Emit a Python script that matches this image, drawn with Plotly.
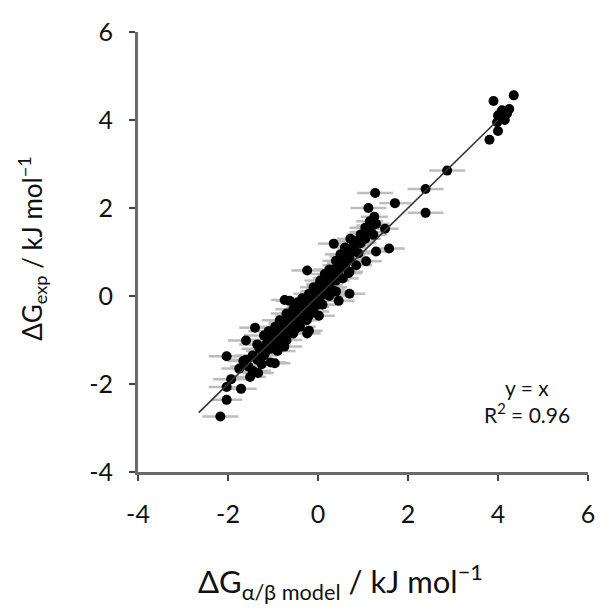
import plotly.graph_objects as go

# isolated points first, then the dense band along the diagonal
x_model = [
    4.35, 3.90, 4.09, 4.20, 4.00, 4.15, 3.98, 4.00, 3.81, 4.25,
    2.87, 2.39, 2.39, 1.27, 1.12, 1.71, 1.29, 1.49, 1.58, 1.23,
    1.29, 0.90, 1.07, 0.35, 0.72, -0.24, 0.48, 0.68, 0.20, 0.04,
    0.70, 0.46, -0.09, 0.02, -0.46, -0.63, -0.74, -0.20, -1.40, -1.60,
    -2.03, -1.66, -1.18, -1.05, -0.90, -0.68, -1.33, -1.51, -1.93, -1.71,
    -2.03, -2.03, -2.17, -0.24, -0.96,
    -1.45, -1.35, -1.30, -1.20, -1.15, -1.05, -1.00, -0.95, -0.85, -0.80,
    -0.75, -0.70, -0.65, -0.60, -0.55, -0.50, -0.45, -0.40, -0.35, -0.30,
    -0.25, -0.20, -0.15, -0.10, -0.05, 0.00, 0.05, 0.10, 0.15, 0.20,
    0.25, 0.30, 0.35, 0.40, 0.45, 0.50, 0.55, 0.60, 0.65, 0.70,
    0.75, 0.80, 0.85, 0.95, 1.00, 1.05, 1.10, 1.15, 1.20, 1.25,
    -1.10, -0.95, -1.20, -0.85, -0.70, -0.55, -0.45, -0.35, -0.20, -0.10,
    0.05, 0.15, 0.25, 0.40, 0.50, 0.60,
    -0.90, -0.70, -0.55, -0.40, -0.25, -0.10, 0.10, 0.25, 0.40, 0.55,
    0.70, 0.85,
    -1.55, -1.45, -1.60, -1.75, -1.25,
    -1.25, -1.10, -0.95, -0.80, -0.65, -0.50, -0.35, -0.20, -0.05, 0.10,
    0.25, 0.35, 0.50, 0.65, 0.80, 0.95, 1.05, -1.35, -1.00, -0.80,
    -0.60, -0.30, 0.00, 0.20, 0.45, -0.75, -0.50, -0.20, 0.00, 0.30,
]
y_exp = [
    4.56, 4.43, 4.22, 4.15, 4.10, 4.00, 3.95, 3.75, 3.55, 4.25,
    2.85, 2.43, 1.89, 2.34, 2.00, 2.11, 1.64, 1.53, 1.08, 1.39,
    1.01, 0.97, 0.79, 1.19, 1.30, 0.58, 0.63, 0.52, 0.40, 0.27,
    0.05, -0.11, 0.11, -0.45, -0.34, -0.11, -0.09, -0.79, -0.72, -1.01,
    -1.37, -1.48, -1.30, -1.51, -1.08, -0.79, -1.75, -1.84, -1.89, -2.11,
    -2.07, -2.36, -2.74, -0.85, -1.53,
    -1.35, -1.45, -1.20, -1.35, -1.10, -1.20, -0.95, -1.05, -0.85, -0.95,
    -0.75, -0.60, -0.70, -0.55, -0.65, -0.45, -0.55, -0.35, -0.45, -0.25,
    -0.35, -0.15, -0.25, -0.05, -0.10, 0.05, -0.02, 0.15, 0.10, 0.25,
    0.20, 0.35, 0.45, 0.35, 0.55, 0.65, 0.80, 0.70, 0.90, 0.85,
    1.00, 1.10, 1.25, 1.20, 1.40, 1.55, 1.45, 1.70, 1.60, 1.80,
    -0.80, -0.70, -0.90, -0.55, -0.40, -0.30, -0.15, -0.05, 0.05, 0.20,
    0.35, 0.50, 0.60, 0.80, 0.95, 1.10,
    -1.25, -1.00, -0.85, -0.70, -0.55, -0.35, -0.20, 0.00, 0.10, 0.40,
    0.55, 0.70,
    -1.60, -1.70, -1.45, -1.65, -1.55,
    -1.25, -1.00, -0.85, -0.75, -0.55, -0.40, -0.25, -0.10, 0.05, 0.25,
    0.35, 0.60, 0.75, 0.95, 1.15, 1.40, 1.30, -1.10, -0.80, -0.65,
    -0.45, -0.15, 0.10, 0.40, 0.70, -1.15, -0.75, -0.45, -0.20, 0.15,
]
x_err = [
    0.10, 0.10, 0.15, 0.10, 0.10, 0.10, 0.10, 0.10, 0.10, 0.10,
    0.40, 0.40, 0.40, 0.40, 0.40, 0.35, 0.30, 0.30, 0.35, 0.30,
    0.30, 0.30, 0.35, 0.35, 0.30, 0.35, 0.30, 0.30, 0.30, 0.30,
    0.35, 0.35, 0.30, 0.35, 0.30, 0.30, 0.30, 0.30, 0.35, 0.40,
    0.40, 0.35, 0.30, 0.35, 0.30, 0.30, 0.35, 0.35, 0.40, 0.35,
    0.40, 0.35, 0.40, 0.30, 0.35,
    0.40, 0.35, 0.40, 0.30, 0.35, 0.40, 0.30, 0.35, 0.40, 0.30,
    0.35, 0.40, 0.30, 0.35, 0.30, 0.40, 0.35, 0.30, 0.40, 0.35,
    0.30, 0.35, 0.40, 0.30, 0.35, 0.30, 0.40, 0.35, 0.30, 0.35,
    0.40, 0.30, 0.35, 0.30, 0.40, 0.35, 0.30, 0.35, 0.40, 0.30,
    0.35, 0.30, 0.40, 0.35, 0.30, 0.35, 0.40, 0.30, 0.35, 0.30,
    0.45, 0.40, 0.45, 0.40, 0.35, 0.40, 0.35, 0.40, 0.35, 0.30,
    0.35, 0.30, 0.35, 0.30, 0.35, 0.30,
    0.40, 0.35, 0.40, 0.35, 0.30, 0.35, 0.30, 0.35, 0.30, 0.35,
    0.30, 0.35,
    0.40, 0.40, 0.45, 0.40, 0.35,
    0.35, 0.40, 0.30, 0.35, 0.40, 0.30, 0.35, 0.30, 0.40, 0.35,
    0.30, 0.35, 0.30, 0.40, 0.35, 0.30, 0.35, 0.40, 0.35, 0.30,
    0.35, 0.30, 0.35, 0.30, 0.35, 0.40, 0.35, 0.30, 0.35, 0.30,
]

fit_x = [-2.65, 4.0]
fit_y = [-2.65, 4.0]

tick_vals = [-4, -2, 0, 2, 4, 6]
tick_text = ["-4", "-2", "0", "2", "4", "6"]

fig = go.Figure()
fig.add_trace(go.Scatter(
    x=x_model, y=y_exp, mode="markers",
    marker=dict(color="black", size=10),
    error_x=dict(type="data", array=x_err, color="#bdbdbd", thickness=2.5, width=0)
))
fig.add_trace(go.Scatter(x=fit_x, y=fit_y, mode="lines", line=dict(color="#333333", width=1.6)))

axis_style = dict(
    range=[-4, 6], tickvals=tick_vals, ticktext=tick_text,
    showline=True, linecolor="#6a6a6a", linewidth=3,
    ticks="outside", ticklen=6, tickwidth=2, tickcolor="#444444",
    showgrid=False, zeroline=False,
    tickfont=dict(size=25, color="#111111"),
)

# the page body adds an 8px offset, so the figure is 8px smaller than the window
fig.update_layout(
    width=595, height=600,
    margin=dict(l=130, r=8, t=20, b=136),
    plot_bgcolor="white", paper_bgcolor="white",
    showlegend=False,
    font=dict(family="Lato", color="#111111"),
    xaxis=dict(axis_style, ticklabelstandoff=12),
    yaxis=dict(axis_style, ticklabelstandoff=11),
    annotations=[
        dict(x=4.64, y=-2.07, text="y = x", showarrow=False, font=dict(size=21)),
        dict(x=4.64, y=-2.67, text="R<sup>2</sup> = 0.96", showarrow=False, font=dict(size=21)),
        # axis titles
        dict(xref="paper", yref="paper", x=0.449, y=-0.25, xanchor="center", yanchor="middle",
             showarrow=False, text="ΔG<sub>α/β model</sub> / kJ mol<sup>−1</sup>", font=dict(size=31)),
        dict(xref="paper", yref="paper", x=-0.236, y=0.509, xanchor="center", yanchor="middle",
             showarrow=False, textangle=-90,
             text="ΔG<sub>exp</sub> / kJ mol<sup>−1</sup>", font=dict(size=26)),
    ],
)

fig.write_html("out.html")
